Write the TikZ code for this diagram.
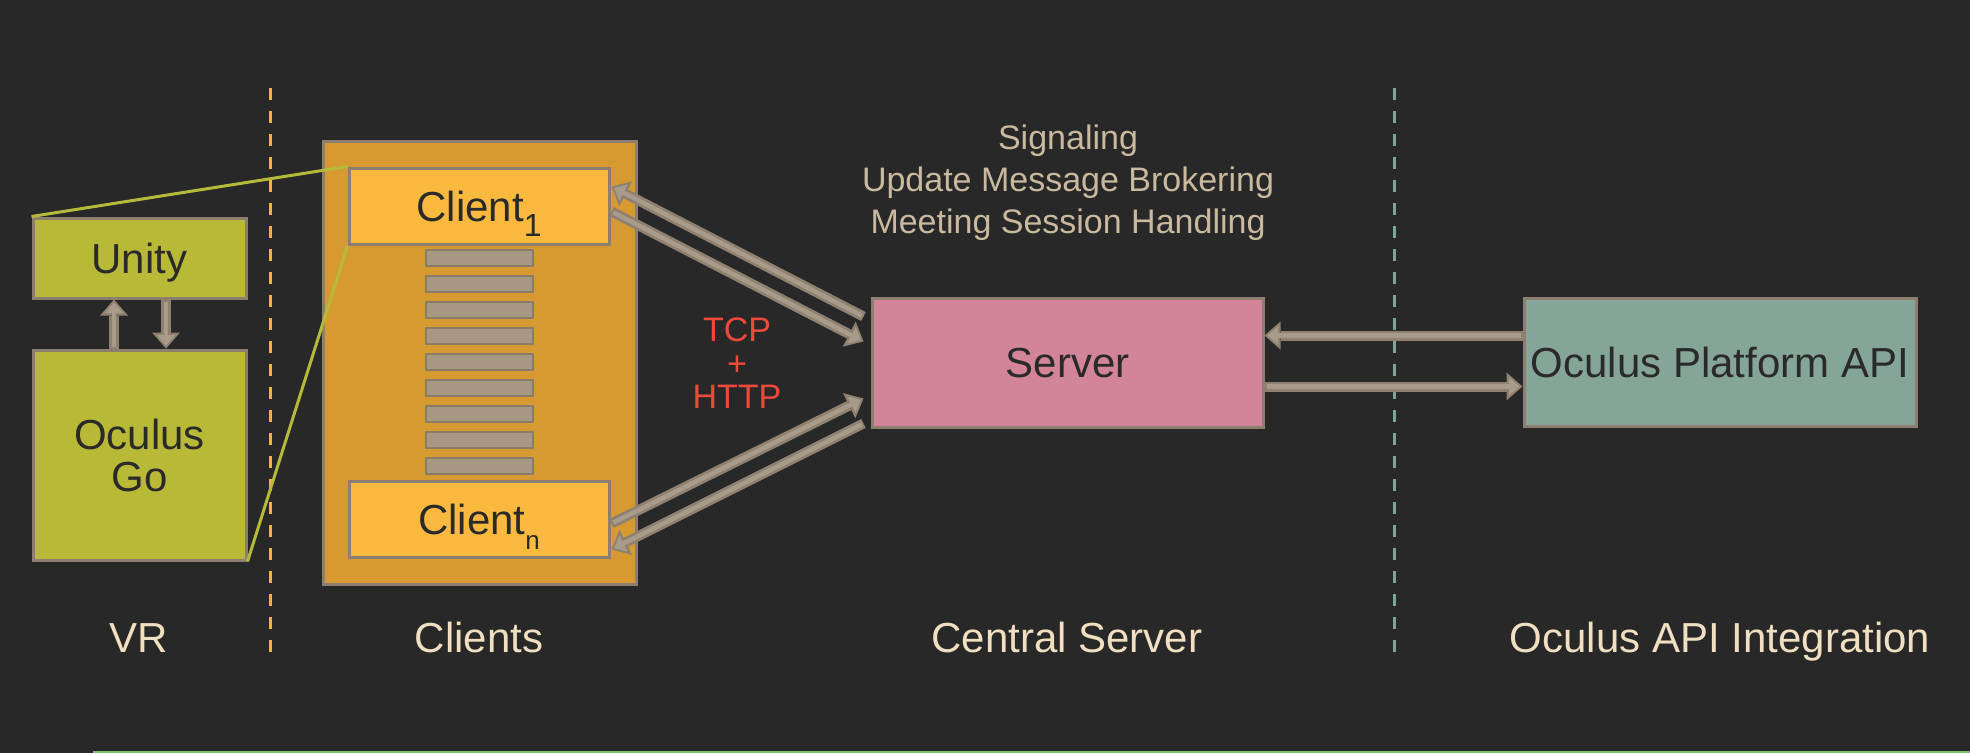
\documentclass[tikz,border=0pt]{standalone}
\usepackage{fontspec}
\setmainfont{Liberation Sans}
\usetikzlibrary{arrows.meta,calc}
\definecolor{bgc}{HTML}{282828}
\definecolor{vrfill}{HTML}{B8B936}
\definecolor{bord}{HTML}{8C7F70}
\definecolor{outerfill}{HTML}{D69A31}
\definecolor{clientfill}{HTML}{F9B93F}
\definecolor{barfill}{HTML}{A69882}
\definecolor{barbord}{HTML}{8C7B69}
\definecolor{serverfill}{HTML}{D28499}
\definecolor{opafill}{HTML}{84A597}
\definecolor{arrline}{HTML}{8E8171}
\definecolor{arrfill}{HTML}{A89B89}
\definecolor{zoomline}{HTML}{B5BA3A}
\definecolor{orangedash}{HTML}{F5B53B}
\definecolor{tealdash}{HTML}{7FA596}
\definecolor{txtdark}{HTML}{2A2A2A}
\definecolor{labelc}{HTML}{F0DFC0}
\definecolor{signalc}{HTML}{C9B99E}
\definecolor{tcpc}{HTML}{EE4A3A}
\definecolor{bottomc}{HTML}{7DC36E}
\newcommand\fatarrow[2]{\draw[fatout] #1 -- #2; \draw[fatin] #1 -- #2;}
\begin{document}
\begin{tikzpicture}[x=1pt,y=-1pt,
  box/.style={draw=bord, line width=3pt, inner sep=0pt, text=txtdark,
    font=\fontsize{42}{42}\selectfont, text height=30pt, text depth=0pt},
  barbox/.style={draw=barbord, fill=barfill, line width=2pt, inner sep=0pt,
    minimum width=107, minimum height=16},
  fatout/.style={draw=arrline, line width=10pt,
    -{Triangle[length=16pt,width=28pt,line width=0pt]}},
  fatin/.style={draw=arrfill, line width=4.5pt, shorten >=3pt, shorten <=2pt,
    -{Triangle[length=10.5pt,width=18pt,line width=0pt]}},
  zoomln/.style={draw=zoomline, line width=3pt},
  sep/.style={line width=3pt, dash pattern=on 12pt off 11pt},
  lbl/.style={text=labelc, font=\fontsize{42}{42}\selectfont, anchor=base, inner sep=0pt},
  sig/.style={text=signalc, font=\fontsize{34}{34}\selectfont, anchor=base, inner sep=0pt},
  tcp/.style={text=tcpc, font=\fontsize{34}{34}\selectfont, anchor=base, inner sep=0pt}
]
\fill[bgc] (0,0) rectangle (1970,753);
\useasboundingbox (0,0) rectangle (1970,753);

% separators
\draw[sep, draw=orangedash] (270,88) -- (270,662);
\draw[sep, draw=tealdash] (1394,88) -- (1394,662);

% VR
\node[box, fill=vrfill, minimum width=213, minimum height=80] (unity) at (139.5,258) {Unity};
\node[box, fill=vrfill, minimum width=213, minimum height=210, align=center,
  text height=72pt, text depth=0pt] (go) at (139.5,455) {Oculus\\Go};

% Clients
\node[draw=bord, fill=outerfill, line width=3pt, minimum width=313, minimum height=443,
  inner sep=0pt] (clients) at (479.5,362.5) {};
\node[box, fill=clientfill, minimum width=260, minimum height=76] (c1) at (479,206)
  {Client\raisebox{-15pt}{\fontsize{32}{32}\selectfont 1}};
\node[box, fill=clientfill, minimum width=260, minimum height=76] (cn) at (479,519)
  {Client\raisebox{-15pt}{\fontsize{26}{26}\selectfont n}};
\foreach \k in {0,...,8}
  \node[barbox] (bar\k) at (479.5,258+26*\k) {};

% Server and API
\node[box, fill=serverfill, minimum width=391, minimum height=129] (server) at (1067.5,362.5) {Server};
\node[box, fill=opafill, minimum width=392, minimum height=128] (opa) at (1720,362) {Oculus Platform API};

% zoom lines
\draw[zoomln] (unity.north west) -- (c1.north west);
\draw[zoomln] (go.south east) -- (c1.south west);

% arrows
\fatarrow{($(go.north)+(-25.5,0)$)}{($(unity.south)+(-25.5,0)$)}
\fatarrow{($(unity.south)+(26.5,0)$)}{($(go.north)+(26.5,0)$)}
\fatarrow{($(server.north west)+(-7,20)$)}{($(c1.north east)+(1,20)$)}
\fatarrow{($(c1.north east)+(1,45)$)}{($(server.north west)+(-7,45)$)}
\fatarrow{($(cn.north east)+(1,44)$)}{($(server.south west)+(-7,-30)$)}
\fatarrow{($(server.south west)+(-7,-5)$)}{($(cn.south east)+(1,-9)$)}
\fatarrow{($(opa.north west)+(0,39)$)}{($(server.north east)+(0,39)$)}
\fatarrow{($(server.north east)+(0,90)$)}{($(opa.north west)+(0,90)$)}

% texts
\node[sig] (s1) at (1068,149) {Signaling};
\node[sig] (s2) at (1068,191) {Update Message Brokering};
\node[sig] (s3) at (1068,233) {Meeting Session Handling};
\node[tcp] (t1) at (737,341) {TCP};
\node[tcp] (t2) at (737,375) {+};
\node[tcp] (t3) at (737,408) {HTTP};

\node[lbl] (l1) at (139,652) {VR};
\node[lbl] (l2) at (479,652) {Clients};
\node[lbl] (l3) at (1067,652) {Central Server};
\node[lbl] (l4) at (1720,652) {Oculus API Integration};

\draw[draw=bottomc, line width=2pt] (93,752) -- (1970,752);
\end{tikzpicture}
\end{document}
